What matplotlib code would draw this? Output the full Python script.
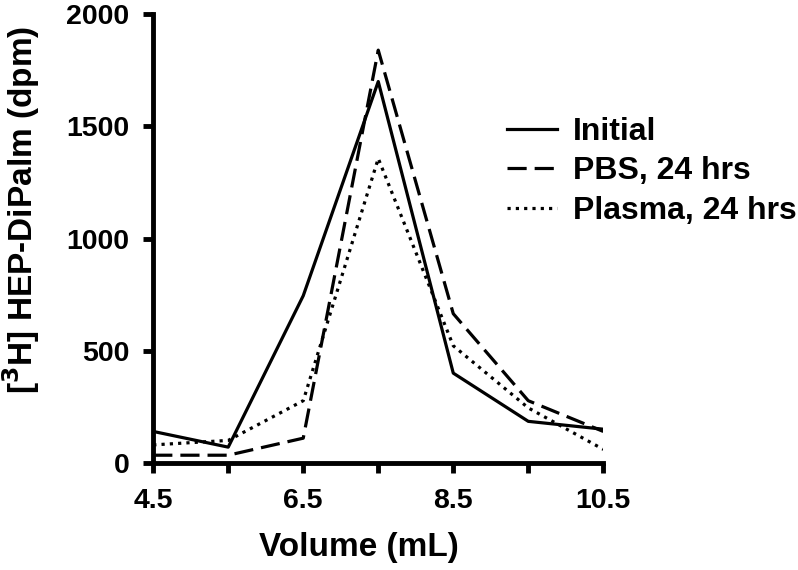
import matplotlib.pyplot as plt

plt.rcParams['font.family'] = ['Liberation Sans', 'DejaVu Sans']
plt.rcParams['font.weight'] = 'bold'

volume = [4.5, 5.5, 6.5, 7.5, 8.5, 9.5, 10.5]
initial = [140, 70, 745, 1700, 400, 185, 150]
pbs = [34, 34, 110, 1840, 665, 277, 140]
plasma = [80, 100, 277, 1357, 522, 245, 60]

x_major = [4.5, 6.5, 8.5, 10.5]
x_minor = [5.5, 7.5, 9.5]
y_ticks = [0, 500, 1000, 1500, 2000]

fig = plt.figure(figsize=(7.98, 5.70), dpi=100)
ax = fig.add_axes([0.192, 0.188, 0.564, 0.787])

ax.plot(volume, initial, color='black', lw=2.3, linestyle='-', label='Initial')
ax.plot(volume, pbs, color='black', lw=2.3, linestyle=(0, (6, 2.5)), label='PBS, 24 hrs')
ax.plot(volume, plasma, color='black', lw=2.3, linestyle=(0, (1, 1.6)), label='Plasma, 24 hrs')

ax.set_xlim(4.5, 10.5)
ax.set_ylim(0, 2000)
ax.set_xticks(x_major)
ax.set_xticklabels([str(v) for v in x_major])
ax.set_xticks(x_minor, minor=True)
ax.set_yticks(y_ticks)

for s in ['top', 'right']:
    ax.spines[s].set_visible(False)
for s in ['left', 'bottom']:
    ax.spines[s].set_linewidth(3.5)

ax.tick_params(which='both', direction='out', width=3.5, length=7, labelsize=20.5)
ax.tick_params(axis='x', pad=11)
ax.tick_params(axis='y', pad=10)
for lab in ax.get_xticklabels() + ax.get_yticklabels():
    lab.set_fontweight('bold')

ax.set_xlabel('Volume (mL)', fontsize=24, fontweight='bold')
ax.set_ylabel(r'[$^{\mathbf{3}}$H] HEP-DiPalm (dpm)', fontsize=24, fontweight='bold')
ax.xaxis.set_label_coords(0.456, -0.155)
ax.yaxis.set_label_coords(-0.247, 0.563)

leg = ax.legend(loc='upper left', bbox_to_anchor=(0.758, 0.80), frameon=False,
                fontsize=23, handlelength=1.55, handletextpad=0.5, labelspacing=0.3,
                borderaxespad=0)
for t in leg.get_texts():
    t.set_fontweight('bold')

fig.savefig('out.png', dpi=100)
